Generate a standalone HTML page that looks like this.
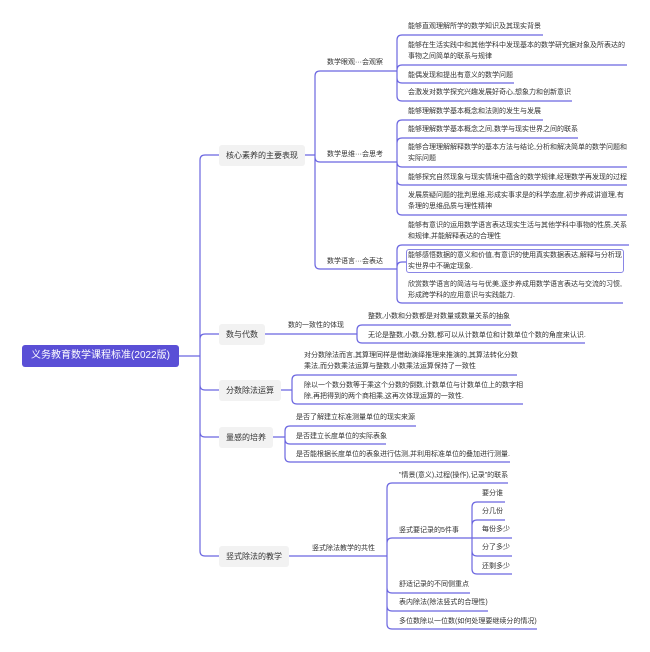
<!DOCTYPE html>
<html><head><meta charset="utf-8"><style>
body{margin:0;width:650px;height:652px;background:#fff;position:relative;overflow:hidden;font-family:"Liberation Sans","Noto Sans CJK SC",sans-serif;}
.t{position:absolute;font-size:7px;line-height:11px;color:#333;white-space:nowrap;}
.b{position:absolute;background:#f2f2f2;border-radius:3px;font-size:8px;color:#333;height:21px;line-height:21px;padding:0 7px;white-space:nowrap;}
.root{position:absolute;left:22px;top:345px;width:157px;height:22px;background:#5a4fd6;border-radius:3px;color:#fff;font-size:10px;line-height:22px;text-align:center;}
svg{position:absolute;left:0;top:0;}
</style></head><body>
<svg id="s" width="650" height="652"></svg>
<div class="root">义务教育数学课程标准(2022版)</div>
<div class="b" style="left:219px;top:145px">核心素养的主要表现</div>
<div class="b" style="left:219px;top:324px">数与代数</div>
<div class="b" style="left:219px;top:380px">分数除法运算</div>
<div class="b" style="left:219px;top:427px">量感的培养</div>
<div class="b" style="left:219px;top:546px">竖式除法的教学</div>

<div class="t" style="left:327px;top:57px">数学眼观···会观察</div>
<div class="t" style="left:327px;top:149px">数学思维···会思考</div>
<div class="t" style="left:327px;top:256px">数学语言···会表达</div>

<div class="t" style="left:408px;top:21px">能够直观理解所学的数学知识及其现实背景</div>
<div class="t" style="left:408px;top:40px">能够在生活实践中和其他学科中发现基本的数学研究据对象及所表达的<br>事物之间简单的联系与规律</div>
<div class="t" style="left:408px;top:70px">能偶发现和提出有意义的数学问题</div>
<div class="t" style="left:408px;top:87px">会激发对数学探究兴趣发展好奇心,想象力和创新意识</div>
<div class="t" style="left:408px;top:106px">能够理解数学基本概念和法则的发生与发展</div>
<div class="t" style="left:408px;top:124px">能够理解数学基本概念之间,数学与现实世界之间的联系</div>
<div class="t" style="left:408px;top:142px">能够合理理解解释数学的基本方法与结论,分析和解决简单的数学问题和<br>实际问题</div>
<div class="t" style="left:408px;top:172px">能够探究自然现象与现实情境中蕴含的数学规律,经理数学再发现的过程</div>
<div class="t" style="left:408px;top:190px">发展质疑问题的批判思维,形成实事求是的科学态度,初步养成讲道理,有<br>条理的思维品质与理性精神</div>
<div class="t" style="left:408px;top:220px">能够有意识的运用数学语言表达现实生活与其他学科中事物的性质,关系<br>和规律,并能解释表达的合理性</div>
<div class="t" style="left:406px;top:249px;border:1px solid #8a86e6;border-radius:3px;padding:0 1px;">能够感悟数据的意义和价值,有意识的使用真实数据表达,解释与分析现<br>实世界中不确定现象.</div>
<div class="t" style="left:408px;top:279px">欣赏数学语言的简洁与与优美,逐步养成用数学语言表达与交流的习惯,<br>形成跨学科的应用意识与实践能力.</div>

<div class="t" style="left:288px;top:320px">数的一致性的体现</div>
<div class="t" style="left:368px;top:311px">整数,小数和分数都是对数量或数量关系的抽象</div>
<div class="t" style="left:368px;top:330px">无论是整数,小数,分数,都可以从计数单位和计数单位个数的角度来认识.</div>

<div class="t" style="left:304px;top:350px">对分数除法而言,其算理同样是借助演绎推理来推演的,其算法转化分数<br>乘法,而分数乘法运算与整数,小数乘法运算保持了一致性</div>
<div class="t" style="left:304px;top:380px">除以一个数分数等于乘这个分数的倒数,计数单位与计数单位上的数字相<br>除,再把得到的两个商相乘,这再次体现运算的一致性.</div>

<div class="t" style="left:296px;top:412px">是否了解建立标准测量单位的现实来源</div>
<div class="t" style="left:296px;top:431px">是否建立长度单位的实际表象</div>
<div class="t" style="left:296px;top:449px">是否能根据长度单位的表象进行估测,并利用标准单位的叠加进行测量.</div>

<div class="t" style="left:312px;top:543px">竖式除法教学的共性</div>
<div class="t" style="left:399px;top:470px">"情景(意义),过程(操作),记录"的联系</div>
<div class="t" style="left:399px;top:525px">竖式要记录的5件事</div>
<div class="t" style="left:482px;top:488px">要分谁</div>
<div class="t" style="left:482px;top:506px">分几份</div>
<div class="t" style="left:482px;top:524px">每份多少</div>
<div class="t" style="left:482px;top:542px">分了多少</div>
<div class="t" style="left:482px;top:561px">还剩多少</div>
<div class="t" style="left:399px;top:579px">舒适记录的不同侧重点</div>
<div class="t" style="left:399px;top:597px">表内除法(除法竖式的合理性)</div>
<div class="t" style="left:399px;top:616px">多位数除以一位数(如何处理要继续分的情况)</div>

<script>
var s=document.getElementById('s'),d='';
function br(px,py,vx,ch){d+='M'+px+','+py+'L'+vx+','+py;
ch.forEach(function(c){var y=c[0],e=c[1],r=Math.min(5,Math.abs(y-py));
if(r<1){d+='M'+vx+','+py+'L'+e+','+y;return;}
var sg=y>py?1:-1;d+='M'+vx+','+py+'L'+vx+','+(y-sg*r)+'Q'+vx+','+y+' '+(vx+r)+','+y+'L'+e+','+y;});}
br(179,356,200,[[155,219],[334,219],[390,219],[437,219],[556,219]]);
br(305,155,315,[[71,395],[162,395],[269,395]]);
br(395,71,397,[[35,543],[65,627],[83,514],[101,572]]);
br(395,162,397,[[120,543],[138,578],[167,627],[185,627],[215,627]]);
br(395,269,397,[[245,629],[262,406],[303,623]]);
d+='M265,334L355,334';
br(355,334,357,[[325,511],[343,585]]);
br(281,390,292,[[375,517],[404,523]]);
br(273,437,285,[[426,416],[444,386],[462,510]]);
br(289,556,385,[]);
br(385,556,387,[[483,508],[538,470],[593,470],[611,488],[629,537]]);
br(470,538,472,[[502,505],[520,505],[538,512],[556,512],[574,512]]);
s.innerHTML='<path d="'+d+'" fill="none" stroke="#6b66e0" stroke-width="1.2"/>';
</script>
</body></html>
